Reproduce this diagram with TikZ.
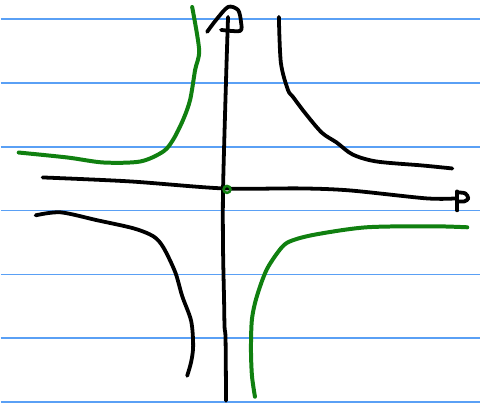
\documentclass[tikz,border=0pt]{standalone}
\definecolor{notebookblue}{RGB}{90,160,245}
\definecolor{penblack}{RGB}{0,0,0}
\definecolor{pengreen}{RGB}{16,128,16}
\begin{document}
\begin{tikzpicture}[x=1pt,y=-1pt,
  ruled/.style={draw=notebookblue,line width=1.5pt},
  ink/.style={draw=penblack,line width=3.8pt,line cap=round,line join=round},
  greenink/.style={draw=pengreen,line width=4pt,line cap=round,line join=round}]
  \fill[white] (0,0) rectangle (481,406);
  \foreach \y in {19.3,83.3,...,404} \draw[ruled] (0,\y) -- (481,\y);
  % axes
  \draw[ink] plot[smooth] coordinates {(226,402) (225.5,340) (224.5,328) (224,300) (223,250) (223,190) (226,80) (228,17)};
  \draw[ink] plot[smooth] coordinates {(207,32) (216,20) (228,7) (238,10) (241,22) (240,31) (221,30)};
  \draw[ink] plot[smooth] coordinates {(42,178) (130,182) (223,189) (300,189) (350,191) (427,199) (457,199)};
  \draw[ink] (458,192) -- (458,211);
  \draw[ink] plot[smooth] coordinates {(458,193) (466,194) (469,199) (465,202) (458,202)};
  % black branches
  \draw[ink] plot[smooth] coordinates {(279,17) (281,63) (288,90) (293,97) (305,113) (322,133) (337,143) (353,155) (377,162) (423,166) (453,169)};
  \draw[ink] plot[smooth] coordinates {(35,216) (60,213) (97,221) (133,229) (153,237) (163,248) (175,273) (182,297) (191,322) (193,347) (191,363) (187,377)};
  % green branches
  \draw[greenink] plot[smooth] coordinates {(192,7) (199,50) (195,70) (190,100) (183,120) (173,140) (163,152) (140,162) (103,163) (67,158) (18,153)};
  \draw[greenink] plot[smooth] coordinates {(468,228) (433,227) (367,228) (317,235) (293,241) (282,248) (267,270) (257,297) (252,320) (251,350) (252,377) (255,398)};
  \draw[pengreen,line width=2.5pt] (227,190) circle (3.5);
  \useasboundingbox (0,0) rectangle (481,406);
\end{tikzpicture}
\end{document}
